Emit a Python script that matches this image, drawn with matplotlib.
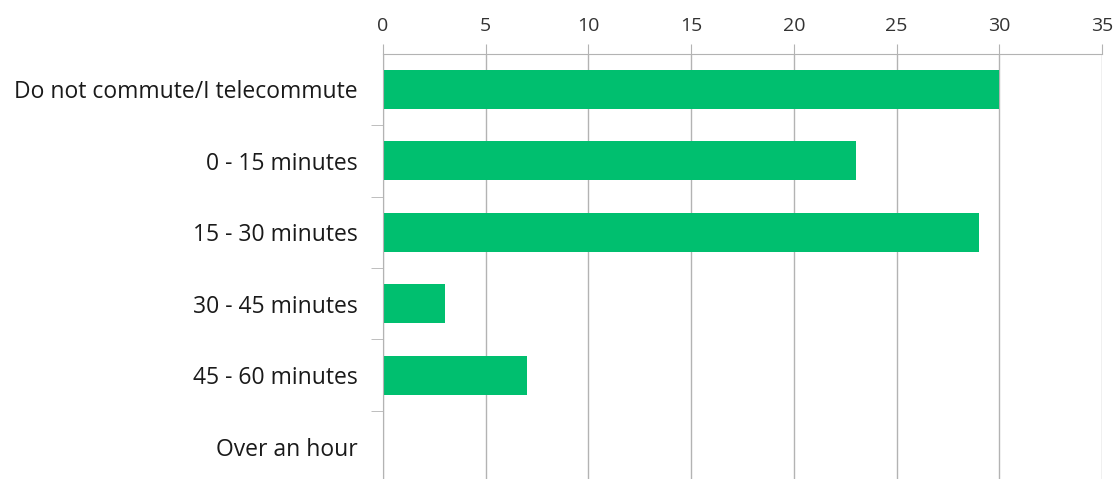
import numpy as np
import matplotlib
matplotlib.use("Agg")
import matplotlib.pyplot as plt

# survey answers: commute time
categories = ["Do not commute/I telecommute", "0 - 15 minutes", "15 - 30 minutes",
              "30 - 45 minutes", "45 - 60 minutes", "Over an hour"]
counts = [30, 23, 29, 3, 7, 0]
x_ticks = [0, 5, 10, 15, 20, 25, 30, 35]

plt.rcParams['font.family'] = ['Open Sans', 'DejaVu Sans']

fig = plt.figure(figsize=(11.16, 4.79), dpi=100)
ax = fig.add_axes([0.3432, -0.0073, 0.6443, 0.8956])

grey = "#b3b3b3"
ypos = np.arange(len(categories))
ax.barh(ypos, counts, height=0.55, color="#00bf6f", zorder=3)

ax.set_ylim(len(categories) - 0.5, -0.5)
ax.set_xlim(0, 35)
ax.set_xticks(x_ticks)
ax.xaxis.tick_top()
ax.tick_params(axis='x', length=7, color=grey, labelsize=14, labelcolor="#333333", pad=6)
ax.grid(axis='x', color=grey, linewidth=1, zorder=0)

ax.set_yticks(ypos)
ax.set_yticklabels(categories)
ax.tick_params(axis='y', which='major', length=0, labelsize=16.5, labelcolor="#1a1a1a", pad=18)
ax.set_yticks(np.arange(0.5, len(categories) - 0.5), minor=True)
ax.tick_params(axis='y', which='minor', length=9, color=grey)

for s in ['right', 'bottom']:
    ax.spines[s].set_visible(False)
for s in ['left', 'top']:
    ax.spines[s].set_color(grey)
    ax.spines[s].set_zorder(4)

fig.savefig("out.png", dpi=100)
